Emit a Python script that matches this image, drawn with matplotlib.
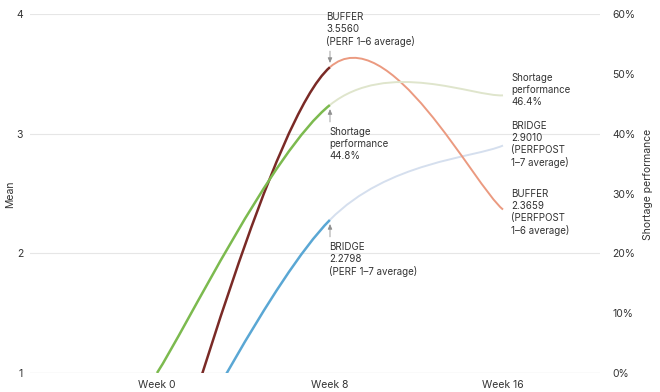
import matplotlib
matplotlib.use("Agg")
import matplotlib.pyplot as plt
from matplotlib.path import Path
from matplotlib.patches import PathPatch
import numpy as np

# ---- data ----
weeks = [0, 8, 16]
week_labels = ["Week 0", "Week 8", "Week 16"]
buffer_mean = [-0.16, 3.5560, 2.3659]
bridge_mean = [-0.03, 2.2798, 2.9010]
shortage_pct = [0.0, 44.8, 46.4]
mean_ticks = [1, 2, 3, 4]
pct_ticks = [0, 10, 20, 30, 40, 50, 60]

TEXT = "#333333"
FONT = ["Inter", "DejaVu Sans"]
plt.rcParams["font.family"] = FONT

fig = plt.figure(figsize=(6.6, 3.92), dpi=100)
ax = fig.add_axes([30 / 660, 19 / 392, 570 / 660, 359 / 392])
ax2 = ax.twinx()

x0 = 0 - (157 - 30) / 21.625
x1 = 16 + (600 - 503) / 21.625
ax.set_xlim(x0, x1)
ax.set_ylim(1, 4)
ax2.set_ylim(0, 60)

for a in (ax, ax2):
    for s in a.spines.values():
        s.set_visible(False)
    a.tick_params(length=0)

ax.set_yticks(mean_ticks)
ax.set_yticklabels([str(t) for t in mean_ticks], fontsize=7.5, color=TEXT)
ax.tick_params(axis="y", pad=5)
ax2.set_yticks(pct_ticks)
ax2.set_yticklabels([f"{t}%" for t in pct_ticks], fontsize=7.5, color=TEXT)
ax2.tick_params(axis="y", pad=9)
ax.set_xticks(weeks)
ax.set_xticklabels(week_labels, fontsize=7.5, color=TEXT)
ax.tick_params(axis="x", pad=5)

ax.yaxis.grid(True, color="#e6e6e6", lw=0.8)
ax.set_axisbelow(True)
ax.axhline(1, color="#d8d8d8", lw=0.8, zorder=0.5)


def cardinal_segments(xs, ys):
    """Cardinal (tension 0) Bezier segments through the points."""
    pts = np.column_stack([xs, ys]).astype(float)
    n = len(pts)
    segs = []
    for i in range(n - 1):
        p0 = pts[max(i - 1, 0)]
        p1 = pts[i]
        p2 = pts[i + 1]
        p3 = pts[min(i + 2, n - 1)]
        c1 = p1 + (p2 - p0) / 6
        c2 = p2 - (p3 - p1) / 6
        segs.append([p1, c1, c2, p2])
    return segs


def draw_series(a, ys, colors, widths):
    segs = cardinal_segments(weeks, ys)
    for seg, c, w in zip(segs, colors, widths):
        path = Path(seg, [Path.MOVETO, Path.CURVE4, Path.CURVE4, Path.CURVE4])
        a.add_patch(PathPatch(path, fill=False, edgecolor=c, lw=w,
                              capstyle="butt", zorder=3))


draw_series(ax2, shortage_pct, ["#7cba4f", "#dfe5cc"], [1.8, 1.4])
draw_series(ax, bridge_mean, ["#5aa7d4", "#d5dfee"], [1.8, 1.4])
draw_series(ax, buffer_mean, ["#7a2a26", "#eb9a80"], [1.8, 1.4])

arrow = dict(arrowstyle="-|>,head_length=0.3,head_width=0.13", color="#909090",
             lw=0.6, shrinkA=0, shrinkB=3)
ax.annotate("", xy=(8, buffer_mean[1]), xytext=(0, 16), textcoords="offset pixels",
            arrowprops=arrow)
ax2.annotate("", xy=(8, shortage_pct[1]), xytext=(0, -17), textcoords="offset pixels",
             arrowprops=arrow)
ax.annotate("", xy=(8, bridge_mean[1]), xytext=(0, -17), textcoords="offset pixels",
            arrowprops=arrow)

lab = dict(fontsize=7, color=TEXT, ha="left", va="top", linespacing=1.25)


def ftext(px, py, s):
    fig.text(px / 660, 1 - py / 392, s, **lab)


ftext(326, 12, f"BUFFER\n{buffer_mean[1]:.4f}\n(PERF 1–6 average)")
ftext(329, 127, f"Shortage\nperformance\n{shortage_pct[1]:.1f}%")
ftext(329, 242, f"BRIDGE\n{bridge_mean[1]:.4f}\n(PERF 1–7 average)")
ftext(511, 73, f"Shortage\nperformance\n{shortage_pct[2]:.1f}%")
ftext(511, 121, f"BRIDGE\n{bridge_mean[2]:.4f}\n(PERFPOST\n1–7 average)")
ftext(511, 189, f"BUFFER\n{buffer_mean[2]:.4f}\n(PERFPOST\n1–6 average)")

fig.text(10 / 660, 1 - 194 / 392, "Mean", rotation=90, fontsize=7.5, color=TEXT,
         ha="center", va="center")
fig.text(648 / 660, 1 - 184 / 392, "Shortage performance", rotation=90, fontsize=7.5,
         color=TEXT, ha="center", va="center")

fig.savefig("out.png", dpi=100)
